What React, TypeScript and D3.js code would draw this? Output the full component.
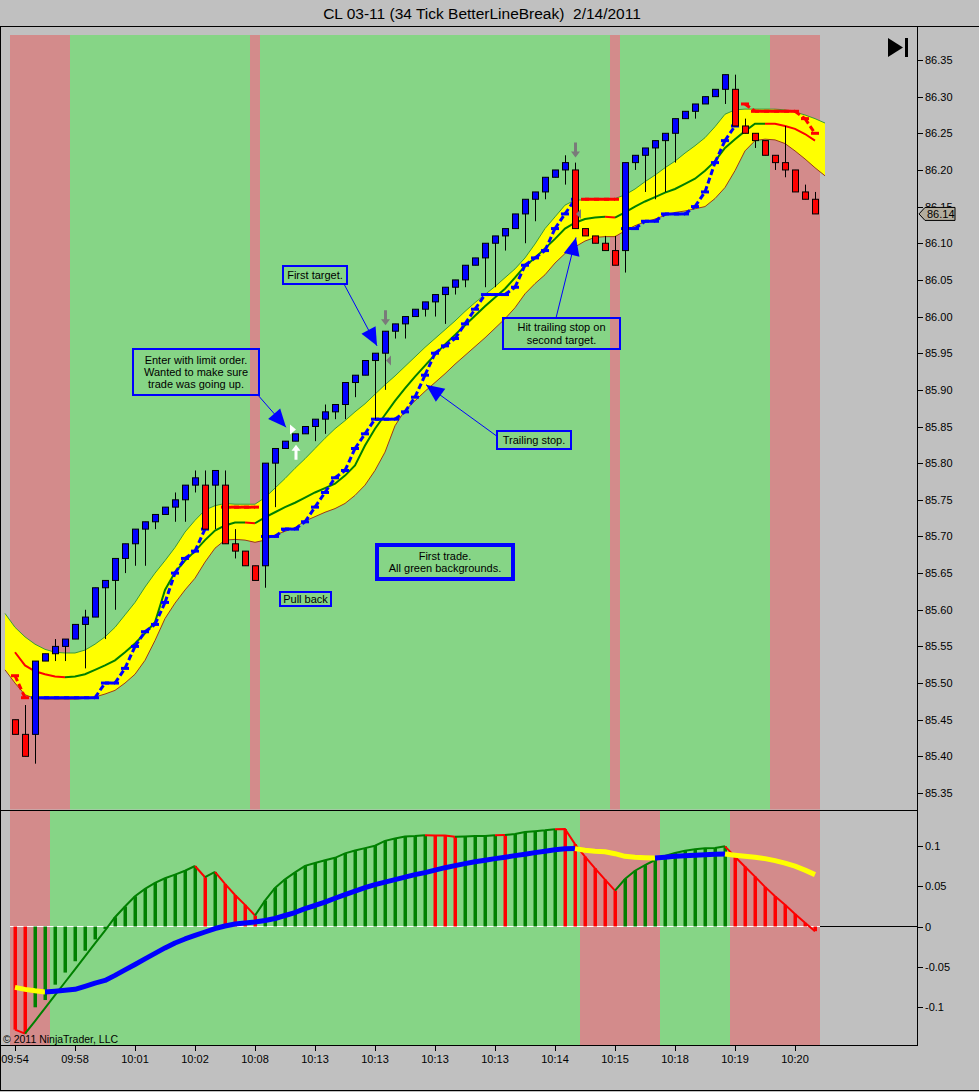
import React from 'react';
import * as d3 from 'd3';

const W = 979;
const H = 1092;

// ---------- price bars (34 tick line break) ----------
const opens = [85.45,85.43,85.43,85.53,85.54,85.55,85.56,85.58,85.59,85.63,
  85.64,85.67,85.69,85.71,85.72,85.73,85.74,85.75,85.77,85.77,
  85.77,85.77,85.69,85.68,85.66,85.66,85.80,85.82,85.83,85.84,
  85.85,85.86,85.87,85.88,85.91,85.92,85.94,85.95,85.98,85.99,
  86.00,86.01,86.02,86.03,86.04,86.05,86.07,86.08,86.10,86.11,
  86.12,86.14,86.16,86.17,86.19,86.20,86.20,86.12,86.11,86.10,
  86.09,86.09,86.21,86.22,86.23,86.24,86.25,86.27,86.28,86.29,
  86.30,86.31,86.31,86.26,86.25,86.24,86.22,86.21,86.20,86.17,
  86.16];
const highs = [85.45,85.47,85.53,85.54,85.56,85.56,85.58,85.60,85.63,85.64,
  85.67,85.69,85.71,85.72,85.73,85.74,85.76,85.77,85.79,85.79,
  85.79,85.79,85.71,85.68,85.66,85.80,85.82,85.83,85.84,85.85,
  85.86,85.88,85.88,85.91,85.92,85.94,85.95,85.98,85.99,86.00,
  86.01,86.02,86.03,86.04,86.05,86.07,86.08,86.10,86.11,86.12,
  86.14,86.16,86.17,86.19,86.20,86.22,86.21,86.12,86.11,86.11,
  86.11,86.21,86.22,86.23,86.24,86.25,86.27,86.28,86.29,86.30,
  86.31,86.33,86.33,86.27,86.25,86.24,86.22,86.26,86.20,86.18,
  86.17];
const lows = [85.43,85.40,85.39,85.53,85.53,85.53,85.56,85.52,85.59,85.56,
  85.60,85.65,85.66,85.66,85.71,85.73,85.72,85.72,85.76,85.71,
  85.71,85.69,85.67,85.66,85.64,85.63,85.74,85.82,85.83,85.84,
  85.83,85.84,85.86,85.86,85.89,85.92,85.86,85.90,85.97,85.97,
  86.00,86.00,86.00,85.99,86.03,86.04,86.07,86.04,86.04,86.09,
  86.12,86.10,86.13,86.16,86.19,86.18,86.12,86.11,86.10,86.09,
  86.07,86.06,86.20,86.17,86.16,86.17,86.21,86.27,86.27,86.29,
  86.30,86.29,86.26,86.25,86.23,86.22,86.20,86.19,86.17,86.16,
  86.14];
const closes = [85.43,85.40,85.53,85.54,85.55,85.56,85.58,85.59,85.63,85.64,
  85.67,85.69,85.71,85.72,85.73,85.74,85.75,85.77,85.78,85.71,
  85.79,85.69,85.68,85.66,85.64,85.80,85.82,85.83,85.84,85.85,
  85.86,85.87,85.88,85.91,85.92,85.94,85.95,85.98,85.99,86.00,
  86.01,86.02,86.03,86.04,86.05,86.07,86.08,86.10,86.11,86.12,
  86.14,86.16,86.17,86.19,86.20,86.21,86.12,86.11,86.10,86.09,
  86.07,86.21,86.22,86.23,86.24,86.25,86.27,86.28,86.29,86.30,
  86.31,86.33,86.26,86.25,86.24,86.22,86.21,86.20,86.17,86.16,
  86.14];

// channel: index -1 .. 81
const bandUpper = [85.595,
  85.576,85.563,85.553,85.546,85.542,85.541,85.541,85.545,85.553,85.563,
  85.576,85.593,85.610,85.631,85.650,85.667,85.685,85.706,85.722,85.736,
  85.742,85.745,85.744,85.744,85.744,85.753,85.766,85.779,85.793,85.806,
  85.820,85.834,85.847,85.858,85.870,85.881,85.894,85.907,85.919,85.932,
  85.945,85.958,85.970,85.982,85.994,86.007,86.019,86.030,86.041,86.053,
  86.065,86.080,86.099,86.120,86.136,86.152,86.159,86.159,86.161,86.161,
  86.161,86.166,86.174,86.184,86.193,86.203,86.212,86.223,86.233,86.244,
  86.259,86.276,86.282,86.283,86.283,86.283,86.283,86.282,86.279,86.275,
  86.270, 86.264];
const bandLower = [85.518,
  85.500,85.484,85.479,85.478,85.478,85.478,85.478,85.479,85.481,85.485,
  85.490,85.500,85.512,85.531,85.558,85.588,85.609,85.627,85.643,85.665,
  85.684,85.695,85.696,85.695,85.692,85.695,85.702,85.707,85.712,85.721,
  85.727,85.733,85.738,85.745,85.756,85.770,85.790,85.815,85.851,85.872,
  85.885,85.898,85.910,85.922,85.935,85.947,85.959,85.971,85.984,85.997,
  86.012,86.031,86.045,86.057,86.073,86.086,86.095,86.103,86.108,86.109,
  86.109,86.117,86.124,86.129,86.133,86.138,86.142,86.144,86.147,86.150,
  86.161,86.176,86.199,86.226,86.240,86.242,86.241,86.236,86.226,86.215,
  86.203, 86.192];
const midLine = [85.542,85.524,85.516,85.512,85.509,85.508,85.509,85.512,85.518,85.524,
  85.531,85.542,85.554,85.568,85.583,85.627,85.651,85.667,85.680,85.695,
  85.708,85.715,85.719,85.719,85.718,85.726,85.733,85.740,85.746,85.753,
  85.760,85.766,85.772,85.783,85.797,85.824,85.847,85.866,85.885,85.902,
  85.918,85.933,85.948,85.962,85.975,85.988,86.001,86.014,86.026,86.038,
  86.053,86.069,86.080,86.093,86.106,86.120,86.128,86.133,86.135,86.136,
  86.135,86.142,86.150,86.157,86.163,86.169,86.174,86.181,86.188,86.199,
  86.212,86.230,86.242,86.253,86.263,86.263,86.263,86.260,86.256,86.249,
  86.240];

const blueStop = [null,null,85.48,85.48,85.48,85.48,85.48,85.48,85.48,85.50,
  85.50,85.52,85.55,85.57,85.58,85.61,85.65,85.67,85.68,85.71,
  null,null,null,null,null,85.70,85.70,85.71,85.71,85.72,
  85.74,85.76,85.78,85.79,85.82,85.84,85.86,85.86,85.86,85.87,
  85.89,85.92,85.95,85.96,85.97,85.99,86.01,86.03,86.03,86.03,
  86.04,86.07,86.08,86.09,86.12,86.14,86.16,null,null,null,
  null,86.12,86.12,86.13,86.13,86.14,86.14,86.14,86.15,86.17,
  86.21,86.24,86.26,null,null,null,null,null,null,null,
  null];
const redStop = [85.51,85.48,null,null,null,null,null,null,null,null,
  null,null,null,null,null,null,null,null,null,null,
  null,85.74,85.74,85.74,85.74,null,null,null,null,null,
  null,null,null,null,null,null,null,null,null,null,
  null,null,null,null,null,null,null,null,null,null,
  null,null,null,null,null,null,null,86.16,86.16,86.16,
  86.16,null,null,null,null,null,null,null,null,null,
  null,null,null,86.29,86.28,86.28,86.28,86.28,86.28,86.27,
  86.25];

// background states (R = red, G = green)
const priceBg = ('RRRRRRGGGG' + 'GGGGGGGGGG' + 'GGGGRGGGGG' + 'GGGGGGGGGG' + 'GGGGGGGGGG' +
  'GGGGGGGGGG' + 'RGGGGGGGGG' + 'GGGGGGRRRR' + 'R').split('');
const lowerBg = ('RRRRGGGGGG' + 'GGGGGGGGGG' + 'GGGGGGGGGG' + 'GGGGGGGGGG' + 'GGGGGGGGGG' +
  'GGGGGGGRRR' + 'RRRRRGGGGG' + 'GGRRRRRRRR' + 'R').split('');
const histColor = ('RRGGGGGGGG' + 'GGGGGGGGGR' + 'GRRRRGGGGG' + 'GGGGGGGGGG' + 'GGRRRGGGGR' +
  'GGGGGRRRRR' + 'RGGGGGGGGG' + 'GGRRRRRRRR' + 'R').split('');

// ---------- oscillator panel ----------
const histVals = [-0.1276,-0.1325,-0.100,-0.091,-0.072,-0.057,-0.043,-0.030,-0.016,-0.003,
  0.0115,0.0247,0.0374,0.0465,0.054,0.0597,0.0642,0.069,0.0749,0.061,
  0.0675,0.0527,0.039,0.0268,0.0136,0.032,0.0477,0.0584,0.067,0.075,
  0.0786,0.082,0.085,0.0905,0.094,0.097,0.100,0.106,0.109,0.1115,
  0.112,0.113,0.1127,0.1125,0.111,0.1115,0.112,0.112,0.113,0.1133,
  0.1144,0.117,0.118,0.119,0.1203,0.1206,0.102,0.0864,0.072,0.058,
  0.0444,0.0588,0.069,0.076,0.0823,0.0872,0.091,0.0938,0.0955,0.0967,
  0.0971,0.0992,0.0864,0.074,0.0617,0.049,0.0374,0.0268,0.0156,0.0045,
  -0.0058];
const histLine = [-0.1276,-0.1325,-0.117,-0.101,-0.085,-0.069,-0.053,-0.037,-0.021,-0.005,
  0.0115,0.0247,0.0374,0.0465,0.054,0.0597,0.0642,0.069,0.0749,0.061,
  0.0675,0.0527,0.039,0.0268,0.0136,0.032,0.0477,0.0584,0.067,0.075,
  0.0786,0.082,0.085,0.0905,0.094,0.097,0.100,0.106,0.109,0.1115,
  0.112,0.113,0.1127,0.1125,0.111,0.1115,0.112,0.112,0.113,0.1133,
  0.1144,0.117,0.118,0.119,0.1203,0.1206,0.102,0.0864,0.072,0.058,
  0.0444,0.0588,0.069,0.076,0.0823,0.0872,0.091,0.0938,0.0955,0.0967,
  0.0971,0.0992,0.0864,0.074,0.0617,0.049,0.0374,0.0268,0.0156,0.0045,
  -0.0058];
const signalLine = [-0.0753,-0.0778,-0.0796,-0.081,-0.080,-0.079,-0.0778,-0.074,-0.070,-0.0667,
  -0.0605,-0.0537,-0.047,-0.040,-0.0333,-0.0265,-0.0204,-0.0154,-0.0111,-0.0068,
  -0.0025,0.0006,0.003,0.0043,0.0056,0.0074,0.0099,0.0136,0.0173,0.0222,
  0.026,0.0302,0.035,0.0395,0.0438,0.048,0.0519,0.055,0.058,0.0611,
  0.0642,0.0667,0.0698,0.0728,0.0753,0.0778,0.0802,0.0821,0.084,0.0858,
  0.0877,0.0895,0.0914,0.0932,0.095,0.0963,0.0964,0.0944,0.0932,0.0926,
  0.0901,0.0868,0.0858,0.0852,0.0848,0.0858,0.0868,0.0877,0.0883,0.0889,
  0.0893,0.0898,0.0883,0.087,0.0858,0.084,0.0815,0.0784,0.0747,0.0698,
  0.0642];

// ---------- axes ----------
const priceTicks = [86.35,86.30,86.25,86.20,86.15,86.10,86.05,86.00,85.95,85.90,85.85,
  85.80,85.75,85.70,85.65,85.60,85.55,85.50,85.45,85.40,85.35];
const oscTicks = [0.1, 0.05, 0, -0.05, -0.1];
const oscTickLabels = ['0.1', '0.05', '0', '-0.05', '-0.1'];
const timeTickIdx = [0,6,12,18,24,30,36,42,48,54,60,66,72,78];
const timeLabels = ['09:54','09:58','10:01','10:02','10:08','10:13','10:13','10:13','10:13','10:14','10:15','10:18','10:19','10:20'];
const lastPrice = 86.14;
const titleText = 'CL 03-11 (34 Tick BetterLineBreak)  2/14/2011';

const FONT = '"Liberation Sans", Arial, sans-serif';
const PINK = '#d38b8b';
const GREEN = '#86d586';
const GRAY = '#c0c0c0';

function arrowHead(x1: number, y1: number, x2: number, y2: number, len = 18, half = 8) {
  const a = Math.atan2(y2 - y1, x2 - x1);
  const bx = x2 - len * Math.cos(a), by = y2 - len * Math.sin(a);
  const px = -Math.sin(a) * half, py = Math.cos(a) * half;
  return `M${x2},${y2}L${bx + px},${by + py}L${bx - px},${by - py}Z`;
}

export default function App() {
  const N = closes.length;
  const x = d3.scaleLinear().domain([0, 80]).range([15, 815]);
  const y = d3.scaleLinear().domain([85.35, 86.35]).range([793, 60]);
  const yo = d3.scaleLinear().domain([-0.1, 0.1]).range([1007.3, 845.7]);
  const idx = d3.range(N);
  const bandIdx = d3.range(-1, N + 1);

  const area = d3.area<number>().x((i) => x(i)).y0((i) => y(bandLower[i + 1])).y1((i) => y(bandUpper[i + 1]));
  const upLine = d3.line<number>().x((i) => x(i)).y((i) => y(bandUpper[i + 1]));
  const loLine = d3.line<number>().x((i) => x(i)).y((i) => y(bandLower[i + 1]));

  // coloured polyline segments: segment into bar i gets colour of state[i]
  function colouredSegments(vals: number[], state: string[], ys: (v: number) => number) {
    const segs: { c: string; d: string }[] = [];
    let cur: [number, number][] = [];
    let curC = '';
    for (let i = 1; i < vals.length; i++) {
      const c = state[i];
      if (c !== curC) {
        if (cur.length) segs.push({ c: curC, d: d3.line()(cur) as string });
        cur = [[x(i - 1), ys(vals[i - 1])]];
        curC = c;
      }
      cur.push([x(i), ys(vals[i])]);
    }
    if (cur.length) segs.push({ c: curC, d: d3.line()(cur) as string });
    return segs;
  }

  const midSegs = colouredSegments(midLine, priceBg, y);
  const histSegs = colouredSegments(histLine, histColor, yo);
  const sigSegs = colouredSegments(signalLine, lowerBg, yo);

  function stopMarks(vals: (number | null)[], color: string, key: string) {
    const out: React.ReactNode[] = [];
    vals.forEach((v, i) => {
      if (v == null) return;
      const pv = i > 0 ? vals[i - 1] : null;
      if (pv != null) {
        out.push(<line key={key + 'c' + i} x1={x(i - 1)} y1={y(pv)} x2={x(i)} y2={y(v)}
          stroke={color} strokeWidth={3} strokeDasharray="6,3" />);
      }
      out.push(<line key={key + 'h' + i} x1={x(i) - 4} x2={x(i) + 4} y1={y(v)} y2={y(v)}
        stroke={color} strokeWidth={3} />);
    });
    return out;
  }

  const annBoxes = [
    { x: 283, y: 266, w: 64, h: 18, sw: 2, lines: ['First target.'] },
    { x: 133, y: 349, w: 126, h: 46, sw: 2, lines: ['Enter with limit order.', 'Wanted to make sure', 'trade was going up.'] },
    { x: 503, y: 318, w: 117, h: 31, sw: 2, lines: ['Hit trailing stop on', 'second target.'] },
    { x: 497, y: 431, w: 74, h: 18, sw: 2, lines: ['Trailing stop.'] },
    { x: 377, y: 545, w: 136, h: 34, sw: 4, lines: ['First trade.', 'All green backgrounds.'] },
    { x: 280, y: 592, w: 51, h: 14, sw: 2, lines: ['Pull back'] },
  ];
  // arrows: start in pixels (box edge), tip in data coordinates (bar index, price)
  const annArrows = [
    { sx: 344, sy: 284, bar: 36.2, price: 85.96 },
    { sx: 257, sy: 394, bar: 27.1, price: 85.849 },
    { sx: 556, sy: 318, bar: 56.1, price: 86.108 },
    { sx: 498, sy: 437, bar: 41.1, price: 85.907 },
  ];

  const mainTop = 35, mainBot = 809.5, lowTop = 811, lowBot = 1045;

  return (
    <>
      <style>{'body{margin:0;background:#c0c0c0}'}</style>
      <svg width={W} height={H} style={{ display: 'block', fontFamily: FONT }}>
        <rect x={0} y={0} width={W} height={H} fill={GRAY} />
        {/* title */}
        <text x={482} y={19} textAnchor="middle" fontSize={15.5} fill="#000" style={{ whiteSpace: 'pre' }}>{titleText}</text>

        {/* backgrounds */}
        {idx.map((i) => (
          <rect key={'pb' + i} x={x(i) - 5} y={mainTop} width={10} height={mainBot - mainTop}
            fill={priceBg[i] === 'R' ? PINK : GREEN} />
        ))}
        {idx.map((i) => (
          <rect key={'lb' + i} x={x(i) - 5} y={lowTop} width={10} height={lowBot - lowTop}
            fill={lowerBg[i] === 'R' ? PINK : GREEN} />
        ))}

        {/* channel */}
        <path d={area(bandIdx) as string} fill="#ffff00" />
        <path d={upLine(bandIdx) as string} fill="none" stroke="#3a9a3a" strokeWidth={1} />
        <path d={loLine(bandIdx) as string} fill="none" stroke="#9a3a1a" strokeWidth={1} />
        {midSegs.map((s, k) => (
          <path key={'ms' + k} d={s.d} fill="none" stroke={s.c === 'R' ? '#ff0000' : '#008000'} strokeWidth={2} />
        ))}

        {/* trailing stops */}
        {stopMarks(blueStop, '#0000ff', 'b')}
        {stopMarks(redStop, '#ff0000', 'r')}

        {/* candles */}
        {idx.map((i) => {
          const o = opens[i], c = closes[i];
          const up = c >= o;
          const top = y(Math.max(o, c)), bot = y(Math.min(o, c));
          return (
            <g key={'c' + i}>
              <line x1={x(i) + 0.5} x2={x(i) + 0.5} y1={y(highs[i])} y2={y(lows[i])} stroke="#000" strokeWidth={1} />
              <rect x={x(i) - 2.5} y={top} width={6} height={Math.max(bot - top, 1)}
                fill={up ? '#0000ff' : '#ff0000'} stroke="#000" strokeWidth={1} />
            </g>
          );
        })}

        {/* execution markers */}
        <path d={`M${x(27.5)},${y(85.846) - 5}L${x(28.1)},${y(85.846)}L${x(27.5)},${y(85.846) + 5}Z`} fill="#ffffff" />
        <g fill="#ffffff">
          <path d={`M${x(28.1)},${y(85.825)}l-4.5,6h3v9h3v-9h3Z`} />
        </g>
        <g fill="#7a7a7a">
          <path d={`M${x(37.05)},${y(85.988)}l-4.5,-6h3v-9h3v9h3Z`} />
          <path d={`M${x(56.05)},${y(86.217)}l-4.5,-6h3v-9h3v9h3Z`} />
          <path d={`M${x(37.1)},${y(85.94)}l5,-5v10Z`} />
          <path d={`M${x(56.1)},${y(86.14)}l5,-5v10Z`} />
        </g>

        {/* annotations */}
        {annArrows.map((a, k) => {
          const tx = x(a.bar), ty = y(a.price);
          return (
            <g key={'aa' + k}>
              <line x1={a.sx} y1={a.sy} x2={tx} y2={ty} stroke="#0000ff" strokeWidth={1} />
              <path d={arrowHead(a.sx, a.sy, tx, ty)} fill="#0000ff" />
            </g>
          );
        })}
        {annBoxes.map((b, k) => (
          <g key={'ab' + k}>
            <rect x={b.x} y={b.y} width={b.w} height={b.h} fill="none" stroke="#0000ff" strokeWidth={b.sw} />
            {b.lines.map((t, j) => (
              <text key={j} x={b.x + b.w / 2} y={b.y + b.h / 2 + (j - (b.lines.length - 1) / 2) * 12.3 + 4}
                textAnchor="middle" fontSize={11} fill="#000">{t}</text>
            ))}
          </g>
        ))}

        {/* lower panel */}
        <line x1={10} x2={x(80) + 5} y1={yo(0)} y2={yo(0)} stroke="#ffffff" strokeWidth={1} />
        <line x1={x(80) + 5} x2={918} y1={yo(0)} y2={yo(0)} stroke="#000" strokeWidth={1} />
        {idx.map((i) => {
          const v = histVals[i];
          const y0 = yo(0), y1 = yo(v);
          return (
            <rect key={'h' + i} x={x(i) - 1.5} y={Math.min(y0, y1)} width={3.5} height={Math.abs(y1 - y0)}
              fill={histColor[i] === 'R' ? '#ff0000' : '#008000'} />
          );
        })}
        {histSegs.map((s, k) => (
          <path key={'hs' + k} d={s.d} fill="none" stroke={s.c === 'R' ? '#ff0000' : '#008000'} strokeWidth={2} />
        ))}
        {sigSegs.map((s, k) => (
          <path key={'ss' + k} d={s.d} fill="none" stroke={s.c === 'R' ? '#ffff00' : '#0000ff'} strokeWidth={5}
            strokeLinejoin="round" />
        ))}
        <text x={3} y={1043} fontSize={10.5} fill="#000">© 2011 NinjaTrader, LLC</text>

        {/* frame */}
        <line x1={0} x2={W} y1={26.5} y2={26.5} stroke="#000" />
        <line x1={0.5} x2={0.5} y1={26.5} y2={1091} stroke="#000" />
        <line x1={0} x2={918} y1={810.5} y2={810.5} stroke="#000" />
        <line x1={0} x2={918} y1={1045.5} y2={1045.5} stroke="#000" />
        <line x1={917.5} x2={917.5} y1={26.5} y2={1046} stroke="#000" />
        <line x1={0} x2={W} y1={1090.5} y2={1090.5} stroke="#000" />

        {/* price axis */}
        {priceTicks.map((p) => (
          <g key={'pt' + p}>
            <line x1={918} x2={923} y1={Math.round(y(p)) + 0.5} y2={Math.round(y(p)) + 0.5} stroke="#000" />
            <text x={925} y={y(p) + 4} fontSize={11} fill="#000">{p.toFixed(2)}</text>
          </g>
        ))}
        <path d={`M919,${y(lastPrice)}L925,${y(lastPrice) - 6.5}H955V${y(lastPrice) + 6.5}H925Z`} fill="#b3ad9e" stroke="#000" strokeWidth={1} />
        <text x={927} y={y(lastPrice) + 4} fontSize={11} fill="#000">{lastPrice.toFixed(2)}</text>
        {/* oscillator axis */}
        {oscTicks.map((v, k) => (
          <g key={'ot' + k}>
            <line x1={918} x2={923} y1={Math.round(yo(v)) + 0.5} y2={Math.round(yo(v)) + 0.5} stroke="#000" />
            <text x={925} y={yo(v) + 4} fontSize={11} fill="#000">{oscTickLabels[k]}</text>
          </g>
        ))}
        {/* time axis */}
        {timeTickIdx.map((ti, k) => (
          <g key={'tt' + k}>
            <line x1={x(ti) + 0.5} x2={x(ti) + 0.5} y1={1046} y2={1051} stroke="#000" />
            <text x={x(ti)} y={1063} textAnchor="middle" fontSize={11} fill="#000">{timeLabels[k]}</text>
          </g>
        ))}
        {/* go-to-end button */}
        <path d="M888,38L903,47.5L888,57Z" fill="#000" />
        <rect x={905} y={38} width={3} height={19} fill="#000" />
      </svg>
    </>
  );
}
